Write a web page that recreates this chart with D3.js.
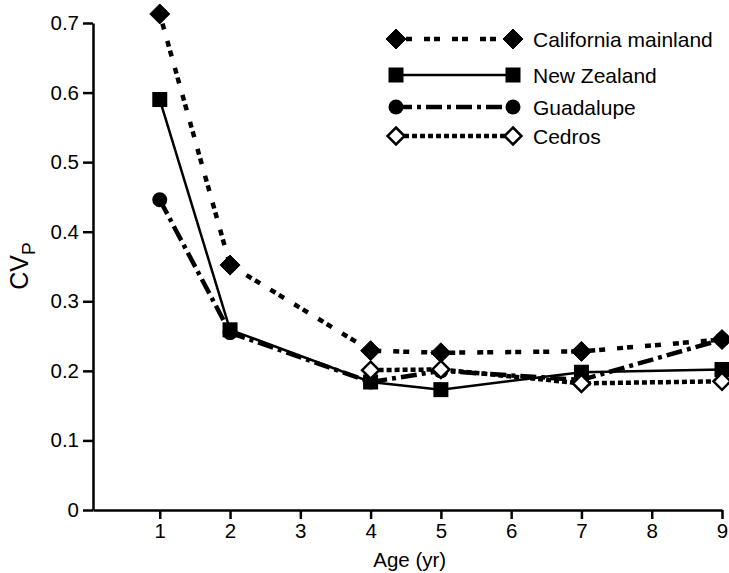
<!DOCTYPE html>
<html>
<head>
<meta charset="utf-8">
<script src="https://cdn.jsdelivr.net/npm/d3@7"></script>
<style>
  body { margin: 0; background: #fff; }
  svg { display: block; font-family: "Liberation Sans", Arial, Helvetica, sans-serif; }
</style>
</head>
<body>
<div id="chart"></div>
<script>
const width = 729;
const height = 573;

const ages = [1, 2, 4, 5, 7, 9];
const xTicks = [1, 2, 3, 4, 5, 6, 7, 8, 9];
const yTicks = [0, 0.1, 0.2, 0.3, 0.4, 0.5, 0.6, 0.7];

const seriesNames = ["California mainland", "New Zealand", "Guadalupe", "Cedros"];
const california = [0.713, 0.352, 0.229, 0.226, 0.228, 0.245];
const newZealand = [0.590, 0.259, 0.184, 0.173, 0.198, 0.202];
const guadalupe = [0.446, 0.255, 0.184, 0.200, 0.187, 0.245];
const cedros = [null, null, 0.201, 0.202, 0.182, 0.185];

const x = d3.scaleLinear().domain([0.05, 9]).range([93, 722]);
const y = d3.scaleLinear().domain([0, 0.7]).range([510, 23]);

const series = [
    { name: seriesNames[0], values: california, marker: "diamond", fill: "#000", dash: "6,4,6,12", width: 4.5, z: 2 },
    { name: seriesNames[1], values: newZealand, marker: "square", fill: "#000", dash: null, width: 2.5, z: 0 },
    { name: seriesNames[2], values: guadalupe, marker: "circle", fill: "#000", dash: "16,5,4,5", width: 4.5, z: 1 },
    { name: seriesNames[3], values: cedros, marker: "diamond", fill: "#fff", dash: "5,3", width: 4.5, z: 3 }
];

const svg = d3.select("#chart").append("svg")
    .attr("width", width)
    .attr("height", height);

// axes
const yAxis = svg.append("g")
    .attr("transform", `translate(${x.range()[0]},0)`)
    .call(d3.axisLeft(y).tickValues(yTicks).tickSize(10).tickSizeOuter(0).tickPadding(4)
        .tickFormat(d => d === 0 ? "0" : d3.format(".1f")(d)));

const xAxis = svg.append("g")
    .attr("transform", `translate(0,${y(0)})`)
    .call(d3.axisBottom(x).tickValues(xTicks).tickSize(9).tickSizeOuter(0).tickPadding(4));

[yAxis, xAxis].forEach(g => {
    g.select(".domain").attr("stroke", "#000").attr("stroke-width", 2.5);
    g.selectAll(".tick line").attr("stroke", "#000").attr("stroke-width", 2.5);
    g.selectAll(".tick text").attr("fill", "#000").style("font-size", "20.5px");
});

svg.append("text")
    .attr("x", (x(4) + x(5)) / 2 + 4)
    .attr("y", 567)
    .attr("text-anchor", "middle")
    .style("font-size", "20.5px")
    .text("Age (yr)");

const yLabel = svg.append("text")
    .attr("transform", "translate(28,266) rotate(-90)")
    .attr("text-anchor", "middle")
    .style("font-size", "25px");
yLabel.append("tspan").text("CV");
yLabel.append("tspan").attr("dy", 7).style("font-size", "19px").text("P");

// markers
function drawMarker(g, type, cx, cy, fill) {
    if (type === "diamond") {
        const r = fill === "#fff" ? 8.5 : 10;
        g.append("path")
            .attr("d", `M${cx},${cy - r}L${cx + r},${cy}L${cx},${cy + r}L${cx - r},${cy}Z`)
            .attr("fill", fill)
            .attr("stroke", "#000")
            .attr("stroke-width", fill === "#fff" ? 2.5 : 1);
    } else if (type === "square") {
        g.append("rect")
            .attr("x", cx - 7.5).attr("y", cy - 7.5)
            .attr("width", 15).attr("height", 15)
            .attr("fill", fill);
    } else {
        g.append("circle")
            .attr("cx", cx).attr("cy", cy).attr("r", 7.5)
            .attr("fill", fill);
    }
}

const line = d3.line()
    .defined(d => d.v !== null)
    .x(d => x(d.age))
    .y(d => y(d.v));

const linesG = svg.append("g");
const marksG = svg.append("g");

series.forEach(s => {
    const pts = ages.map((age, i) => ({ age, v: s.values[i] }));
    linesG.append("path")
        .datum(pts)
        .attr("d", line)
        .attr("fill", "none")
        .attr("stroke", "#000")
        .attr("stroke-width", s.width)
        .attr("stroke-dasharray", s.dash);
});

series.slice().sort((a, b) => a.z - b.z).forEach(s => {
    ages.forEach((age, i) => {
        if (s.values[i] === null) return;
        drawMarker(marksG, s.marker, x(age), y(s.values[i]), s.fill);
    });
});

// legend
const legendY = [39, 75, 107, 136];
const legend = svg.append("g");
series.forEach((s, i) => {
    const ly = legendY[i];
    legend.append("line")
        .attr("x1", 396).attr("x2", 513)
        .attr("y1", ly).attr("y2", ly)
        .attr("stroke", "#000")
        .attr("stroke-width", s.width)
        .attr("stroke-dasharray", s.dash);
    drawMarker(legend, s.marker, 396, ly, s.fill);
    drawMarker(legend, s.marker, 513, ly, s.fill);
    legend.append("text")
        .attr("x", 533)
        .attr("y", ly + 7.5)
        .style("font-size", "21px")
        .text(s.name);
});
</script>
</body>
</html>
